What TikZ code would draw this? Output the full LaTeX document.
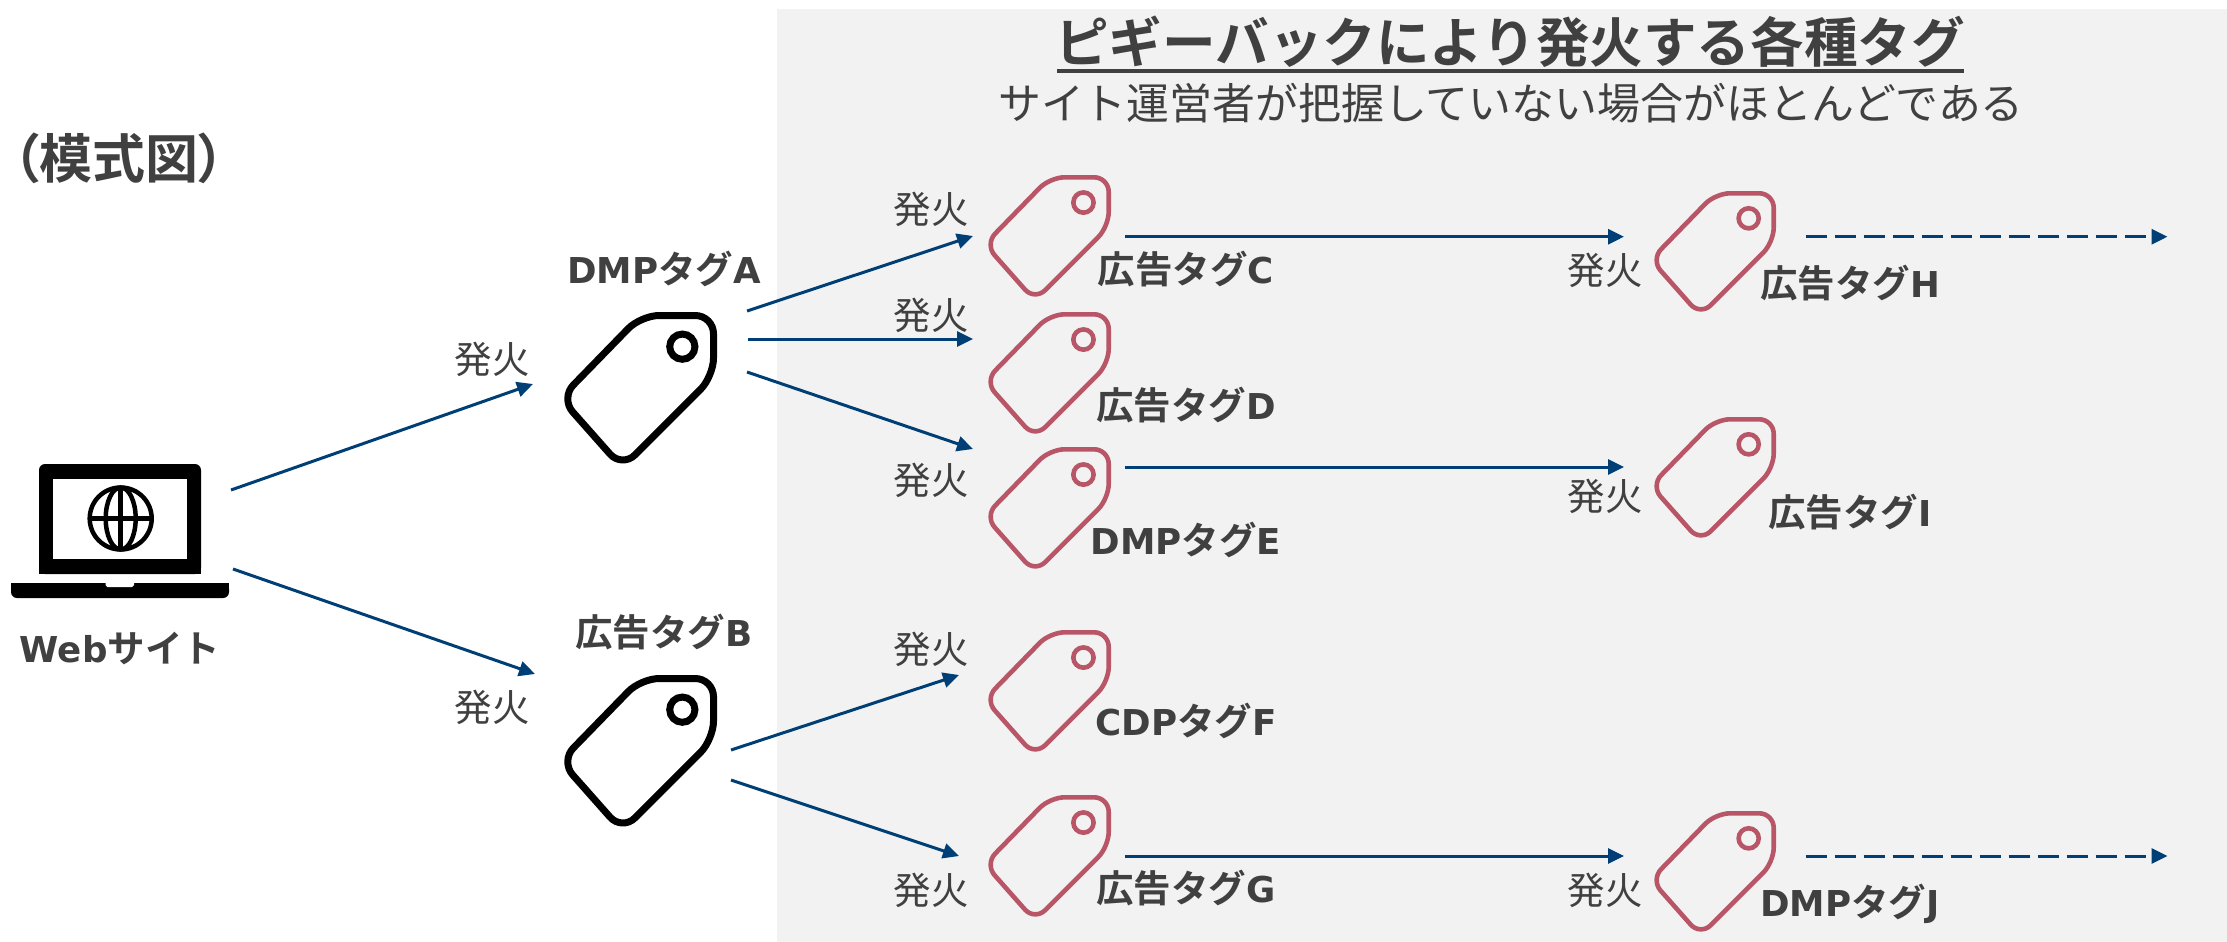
\documentclass[tikz,border=0pt]{standalone}
\usepackage{fontspec}
\usetikzlibrary{arrows.meta}
\setmainfont{Noto Sans CJK JP}
\newfontfamily\jpb{Noto Sans CJK JP Bold}
\newfontfamily\jpbp[RawFeature=+palt]{Noto Sans CJK JP Bold}
\newfontfamily\latb[Scale=0.95]{DejaVu Sans Bold}
\newcommand{\LB}[1]{{\latb #1}}
\definecolor{txtc}{HTML}{404040}
\definecolor{arrc}{HTML}{003F75}
\definecolor{redc}{HTML}{B85667}
\definecolor{bgc}{HTML}{F2F2F2}
\tikzset{
  x=1pt,y=-1pt,
  conn/.style={draw=arrc,line width=3pt,-{Triangle[length=16pt,width=15pt]}},
  connd/.style={conn,dash pattern=on 21pt off 8pt},
  fire/.style={font=\fontsize{37.5}{37.5}\selectfont,text=txtc,inner sep=0pt,text height=33pt,text depth=5pt},
  lab/.style={font=\jpb\fontsize{37.5}{37.5}\selectfont,text=txtc,inner sep=0pt,text height=32pt,text depth=5pt},
  tagbox/.style={inner sep=0pt,minimum size=#1}
}
% name, left, top, size, line width, colour
\newcommand{\tagicon}[6]{%
  \node[tagbox=#4pt] (#1) at (#2+0.5*#4,#3+0.5*#4) {};
  \begin{scope}[shift={(#2+0.5*#5,#3+0.5*#5)},x=#4pt-#5pt,y=-#4pt+#5pt]
    \draw[draw=#6,line width=#5pt,rounded corners=0.12*#4pt]
      (0.75,0) -- (1,0) -- (1,0.42) -- (0.37,1.05) -- (-0.055,0.57) -- (0.50,0) -- cycle;
    \draw[draw=#6,line width=#5pt] (0.785,0.215) circle[radius=0.083*#4pt];
  \end{scope}}
\begin{document}
\begin{tikzpicture}
\useasboundingbox (0,0) rectangle (2227,942);
\fill[bgc] (777,9) rectangle (2227,942);

% laptop
\node[inner sep=0pt,minimum width=218pt,minimum height=134pt] (laptop) at (120,531) {};
\fill[black,rounded corners=6pt] (39,574) -- (39,464) -- (201,464) -- (201,574) -- cycle;
\fill[black] (39,560) rectangle (201,574);
\fill[white] (53,479) rectangle (187,559);
\fill[black,rounded corners=6pt] (11,598) -- (11,583) -- (229,583) -- (229,598) -- cycle;
\fill[black] (11,583) rectangle (229,590);
\fill[white] (105.5,583) -- (134,583) -- (134,585) -- (132,587) -- (107.5,587) -- (105.5,585) -- cycle;
\begin{scope}[line width=4.5pt]
  \draw (120.7,518.5) circle[radius=31pt];
  \draw (120.7,518.5) ellipse[x radius=15pt,y radius=31pt];
  \draw (120.7,487.5) -- (120.7,549.5);
  \draw (89.7,518.5) -- (151.7,518.5);
\end{scope}

% tags
\tagicon{tagA}{565}{312}{152}{7}{black}
\tagicon{tagB}{565}{675}{152}{7}{black}
\tagicon{tagC}{989}{175}{122}{4.6}{redc}
\tagicon{tagD}{989}{312}{122}{4.6}{redc}
\tagicon{tagE}{989}{447}{122}{4.6}{redc}
\tagicon{tagF}{989}{630}{122}{4.6}{redc}
\tagicon{tagG}{989}{795}{122}{4.6}{redc}
\tagicon{tagH}{1655}{191}{121}{4.6}{redc}
\tagicon{tagI}{1655}{417}{121}{4.6}{redc}
\tagicon{tagJ}{1655}{811}{121}{4.6}{redc}

% connector ends
\coordinate (lapA) at (231,490); \coordinate (inA) at (533,384);
\coordinate (lapB) at (233,569); \coordinate (inB) at (535,674);
\coordinate (aC) at (747,311); \coordinate (inC) at (973,236);
\coordinate (aD) at (748,339); \coordinate (inD) at (973,339);
\coordinate (aE) at (747,372); \coordinate (inE) at (973,449);
\coordinate (bF) at (731,750); \coordinate (inF) at (959,675);
\coordinate (bG) at (731,780); \coordinate (inG) at (959,856);
\coordinate (cH) at (1125,236.7); \coordinate (inH) at (1624,236.7);
\coordinate (eI) at (1125,467); \coordinate (inI) at (1624,467);
\coordinate (gJ) at (1125,856); \coordinate (inJ) at (1624,856);
\coordinate (hOut) at (1805.5,236.7); \coordinate (hEnd) at (2167.5,236.7);
\coordinate (jOut) at (1805.5,856); \coordinate (jEnd) at (2167.5,856);

\draw[conn] (lapA) -- (inA);
\draw[conn] (lapB) -- (inB);
\draw[conn] (aC) -- (inC);
\draw[conn] (aD) -- (inD);
\draw[conn] (aE) -- (inE);
\draw[conn] (bF) -- (inF);
\draw[conn] (bG) -- (inG);
\draw[conn] (cH) -- (inH);
\draw[conn] (eI) -- (inI);
\draw[conn] (gJ) -- (inJ);
\draw[connd] (hOut) -- (hEnd);
\draw[connd] (jOut) -- (jEnd);

% headings
\node[font=\jpb\fontsize{53.6}{53.6}\selectfont,text=txtc,inner sep=0pt] (title) at (1510,42) {ピギーバックにより発火する各種タグ};
\coordinate (ulL) at (1057,71); \coordinate (ulR) at (1964,71);
\draw[txtc,line width=3.5pt] (ulL) -- (ulR);
\node[font=\fontsize{42.9}{42.9}\selectfont,text=txtc,inner sep=0pt] (sub) at (1511,103) {サイト運営者が把握していない場合がほとんどである};
\node[font=\jpbp\fontsize{53}{53}\selectfont,text=txtc,inner sep=0pt] (model) at (119,158) {（模式図）};

% fire labels
\node[fire] (f1) at (931,209) {発火};
\node[fire] (f2) at (931,315) {発火};
\node[fire] (f3) at (931,480) {発火};
\node[fire] (f4) at (931,649) {発火};
\node[fire] (f5) at (931,890) {発火};
\node[fire] (f6) at (492,359) {発火};
\node[fire] (f7) at (492,707) {発火};
\node[fire] (f8) at (1605,270) {発火};
\node[fire] (f9) at (1605,496) {発火};
\node[fire] (f10) at (1605,890) {発火};

% tag labels
\node[lab] (lA) at (664,270) {\LB{DMP}タグ\LB{A}};
\node[lab] (lB) at (664,633) {広告タグ\LB{B}};
\node[lab] (lC) at (1186,270) {広告タグ\LB{C}};
\node[lab] (lD) at (1186,406) {広告タグ\LB{D}};
\node[lab] (lE) at (1186,541) {\LB{DMP}タグ\LB{E}};
\node[lab] (lF) at (1186,722) {\LB{CDP}タグ\LB{F}};
\node[lab] (lG) at (1186,889) {広告タグ\LB{G}};
\node[lab] (lH) at (1850,284) {広告タグ\LB{H}};
\node[lab] (lI) at (1850,513) {広告タグ\LB{I}};
\node[lab] (lJ) at (1850,903) {\LB{DMP}タグ\LB{J}};
\node[lab] (lW) at (120,649) {\LB{Web}サイト};
\end{tikzpicture}
\end{document}
